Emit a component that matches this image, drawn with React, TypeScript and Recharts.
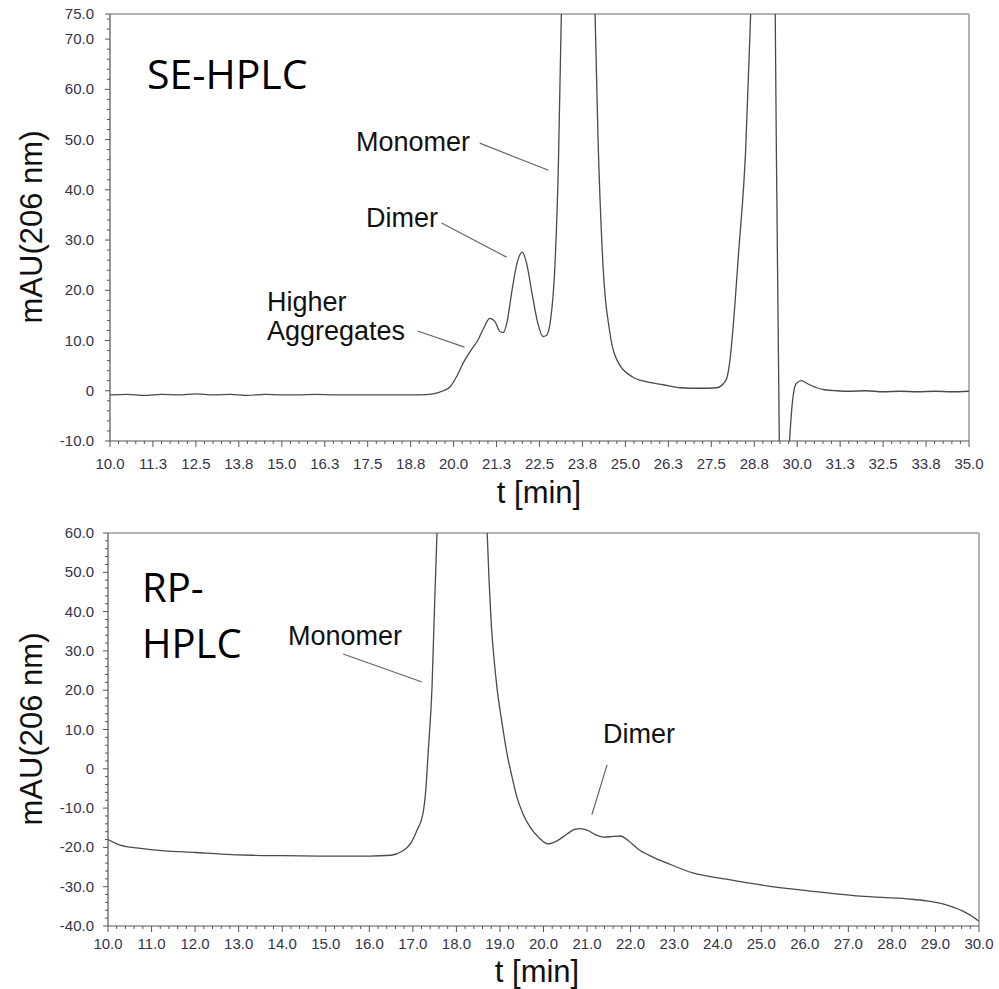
import React from 'react';
import { LineChart, Line, XAxis, YAxis, ReferenceLine } from 'recharts';

// ---------- SE-HPLC trace ----------
const seTime = [
  10.0, 10.5, 11.0, 11.5, 12.0, 12.5, 13.0, 13.5, 14.0, 14.5, 15.0, 15.5, 16.0, 16.5, 17.0, 17.5, 18.0, 18.5, 19.0,
  19.4, 19.7, 19.9, 20.1, 20.3, 20.5, 20.7, 20.9, 21.05, 21.2, 21.35, 21.45, 21.55, 21.7, 21.85, 22.0, 22.12, 22.28,
  22.45, 22.6, 22.7, 22.82, 22.95, 23.05, 23.15, 23.6, 24.1, 24.2, 24.35, 24.55, 24.8, 25.2, 25.6, 26.1, 26.6, 27.2,
  27.66, 27.85, 27.95, 28.05, 28.12, 28.3, 28.5, 28.62, 28.7, 29.0, 29.36, 29.48, 29.6, 29.77, 29.85, 29.91, 29.98,
  30.13, 30.3, 30.57, 30.8, 31.15, 31.5, 32.0, 32.5, 33.0, 33.5, 34.0, 34.5, 35.0,
];
const seMAU = [
  -0.8, -0.7, -0.9, -0.7, -0.8, -0.6, -0.8, -0.7, -0.9, -0.7, -0.8, -0.8, -0.7, -0.8, -0.8, -0.8, -0.8, -0.8, -0.8,
  -0.6, 0.0, 0.8, 3.0, 5.8, 8.0, 10.0, 12.8, 14.4, 13.8, 11.8, 11.6, 13.5, 20.0, 25.5, 27.6, 25.5, 19.5,
  13.5, 10.8, 11.0, 14.0, 25.0, 45.0, 80, 400, 80, 51, 24.7, 11.5, 5.5, 2.8, 1.8, 1.2, 0.6, 0.5,
  0.6, 1.4, 2.5, 6.5, 11.5, 28, 48, 70, 90, 400, 75.5, -10.5, -30, -10.5, -3, 0.2, 1.5,
  2.0, 1.4, 0.6, 0.2, 0.0, -0.1, 0.0, -0.2, -0.1, -0.2, -0.1, -0.2, -0.1,
];

// ---------- RP-HPLC trace ----------
const rpTime = [
  10.0, 10.3, 10.7, 11.3, 12.0, 12.6, 13.3, 14.0, 15.0, 16.0, 16.5, 16.75, 16.95, 17.1, 17.23, 17.3, 17.35, 17.44,
  17.5, 17.56, 18.1, 18.7, 18.75, 18.8, 18.86, 18.93, 19.05, 19.16, 19.28, 19.39, 19.53, 19.69, 19.9, 20.1, 20.3,
  20.54, 20.7, 20.84, 21.0, 21.2, 21.4, 21.6, 21.76, 21.95, 22.17, 22.5, 22.84, 23.43, 24.2, 25.13, 26.12, 27.27,
  28.35, 28.8, 29.17, 29.45, 29.63, 29.85, 30.0,
];
const rpMAU = [
  -18.0, -19.5, -20.2, -20.9, -21.3, -21.7, -22.0, -22.1, -22.2, -22.2, -22.0, -21.0, -19.0, -15.5, -11.5, -5, 3.8, 20.7,
  42, 62, 400, 62, 48, 37, 28.5, 20.8, 11.5, 4.0, -2.2, -7.2, -11.5, -14.8, -17.6, -19.1, -18.4,
  -16.6, -15.5, -15.2, -15.6, -16.8, -17.4, -17.2, -17.1, -18.3, -20.4, -22.4, -24, -26.5, -28.1, -29.8, -31.1, -32.4,
  -33.1, -33.6, -34.4, -35.4, -36.2, -37.6, -38.8,
];

// ---------- tick labels ----------
const seXLabels = [10, 11.25, 12.5, 13.75, 15, 16.25, 17.5, 18.75, 20, 21.25, 22.5, 23.75, 25, 26.25, 27.5, 28.75, 30, 31.25, 32.5, 33.75, 35];
const seYLabels = [-10, 0, 10, 20, 30, 40, 50, 60, 70, 75];
const rpXLabels = [10, 11, 12, 13, 14, 15, 16, 17, 18, 19, 20, 21, 22, 23, 24, 25, 26, 27, 28, 29, 30];
const rpYLabels = [-40, -30, -20, -10, 0, 10, 20, 30, 40, 50, 60];

// ---------- annotation leader lines (data coords) ----------
const seLeaders = [
  [{ x: 20.76, y: 49.3 }, { x: 22.76, y: 43.9 }],
  [{ x: 19.65, y: 33.4 }, { x: 21.54, y: 26.6 }],
  [{ x: 18.95, y: 11.9 }, { x: 20.32, y: 8.7 }],
];
const rpLeaders = [
  [{ x: 15.4, y: 29.2 }, { x: 17.21, y: 22.1 }],
  [{ x: 21.46, y: 1.0 }, { x: 21.11, y: -11.7 }],
];

const range = (a: number, b: number, step: number) => {
  const out: number[] = [];
  const n = Math.round((b - a) / step);
  for (let i = 0; i <= n; i++) out.push(Math.round((a + i * step) * 1000) / 1000);
  return out;
};

const seXTicks = range(10, 35, 0.25);
const seYTicks = [...range(-10, 74, 2), 75];
const rpXTicks = range(10, 30, 0.2);
const rpYTicks = range(-40, 60, 2);

const seData = seTime.map((t, i) => ({ t, v: seMAU[i] }));
const rpData = rpTime.map((t, i) => ({ t, v: rpMAU[i] }));

const TICK_FONT = "'Liberation Sans', Arial, Helvetica, sans-serif";
const TICK_COLOR = '#33334a';
const AXIS_COLOR = '#555';
const FRAME_COLOR = '#9a9a9a';
const TRACE_COLOR = '#4a4a4a';

const isIn = (arr: number[], v: number) => arr.some((l) => Math.abs(l - v) < 1e-6);
const fmtY = (v: number) => (v === 0 ? '0' : v.toFixed(1));

const XTick = (props: any) => {
  const { x, y, payload, labels, offset } = props;
  const v = payload.value;
  const major = isIn(labels, v);
  return (
    <g>
      <line x1={x} x2={x} y1={y} y2={y + (major ? 6 : 3)} stroke={AXIS_COLOR} strokeWidth={1} />
      {major && (
        <text x={x} y={y + offset} textAnchor="middle" fontSize={15} fontFamily={TICK_FONT} fill={TICK_COLOR}>
          {v.toFixed(1)}
        </text>
      )}
    </g>
  );
};

const YTick = (props: any) => {
  const { x, y, payload, labels, gap } = props;
  const v = payload.value;
  const major = isIn(labels, v);
  return (
    <g>
      <line x1={x - (major ? 5 : 3)} x2={x} y1={y} y2={y} stroke={AXIS_COLOR} strokeWidth={1} />
      {major && (
        <text x={x - gap} y={y + 5} textAnchor="end" fontSize={15} fontFamily={TICK_FONT} fill={TICK_COLOR}>
          {fmtY(v)}
        </text>
      )}
    </g>
  );
};

const ANN_FONT = "'Liberation Sans', Arial, Helvetica, sans-serif";
const TITLE_FONT = "'Open Sans', 'Noto Sans', sans-serif";

export default function App() {
  return (
    <div style={{ position: 'absolute', left: 0, top: 0, width: 999, height: 989, background: '#fff', overflow: 'hidden' }}>
      <div style={{ position: 'absolute', left: 0, top: 0 }}>
        <LineChart width={999} height={500} data={seData} margin={{ top: 14, right: 30, bottom: 29, left: 0 }}>
          <XAxis
            type="number"
            dataKey="t"
            domain={[10, 35]}
            ticks={seXTicks}
            interval={0}
            allowDataOverflow
            height={30}
            tickSize={0}
            tickMargin={0}
            tickLine={false}
            axisLine={{ stroke: AXIS_COLOR, strokeWidth: 1.2 }}
            tick={(p: any) => <XTick {...p} labels={seXLabels} offset={28} />}
          />
          <YAxis
            type="number"
            domain={[-10, 75]}
            ticks={seYTicks}
            interval={0}
            allowDataOverflow
            width={110}
            tickSize={0}
            tickMargin={0}
            tickLine={false}
            axisLine={{ stroke: AXIS_COLOR, strokeWidth: 1.2 }}
            tick={(p: any) => <YTick {...p} labels={seYLabels} gap={16} />}
          />
          <ReferenceLine y={75} stroke={FRAME_COLOR} strokeWidth={1.5} />
          <ReferenceLine x={35} stroke={FRAME_COLOR} strokeWidth={1.5} />
          {seLeaders.map((seg, i) => (
            <ReferenceLine key={i} segment={seg} stroke="#666" strokeWidth={1.2} />
          ))}
          <Line type="monotone" dataKey="v" stroke={TRACE_COLOR} strokeWidth={1.3} dot={false} isAnimationActive={false} />
        </LineChart>
      </div>
      <div style={{ position: 'absolute', left: 0, top: 500 }}>
        <LineChart width={999} height={489} data={rpData} margin={{ top: 33, right: 20, bottom: 33, left: 0 }}>
          <XAxis
            type="number"
            dataKey="t"
            domain={[10, 30]}
            ticks={rpXTicks}
            interval={0}
            allowDataOverflow
            height={30}
            tickSize={0}
            tickMargin={0}
            tickLine={false}
            axisLine={{ stroke: AXIS_COLOR, strokeWidth: 1.2 }}
            tick={(p: any) => <XTick {...p} labels={rpXLabels} offset={23} />}
          />
          <YAxis
            type="number"
            domain={[-40, 60]}
            ticks={rpYTicks}
            interval={0}
            allowDataOverflow
            width={108}
            tickSize={0}
            tickMargin={0}
            tickLine={false}
            axisLine={{ stroke: AXIS_COLOR, strokeWidth: 1.2 }}
            tick={(p: any) => <YTick {...p} labels={rpYLabels} gap={14} />}
          />
          <ReferenceLine y={60} stroke={FRAME_COLOR} strokeWidth={1.5} />
          <ReferenceLine x={30} stroke={FRAME_COLOR} strokeWidth={1.5} />
          {rpLeaders.map((seg, i) => (
            <ReferenceLine key={i} segment={seg} stroke="#666" strokeWidth={1.2} />
          ))}
          <Line type="monotone" dataKey="v" stroke={TRACE_COLOR} strokeWidth={1.3} dot={false} isAnimationActive={false} />
        </LineChart>
      </div>
      <svg width={999} height={989} style={{ position: 'absolute', left: 0, top: 0, pointerEvents: 'none' }}>
        {/* top panel */}
        <text x={147} y={89} fontSize={41} fontFamily={TITLE_FONT} fill="#000">SE-HPLC</text>
        <text transform="translate(42,227) rotate(-90)" textAnchor="middle" fontSize={31} fontFamily={ANN_FONT} fill="#111">mAU(206 nm)</text>
        <text x={539} y={503} textAnchor="middle" fontSize={31} fontFamily={ANN_FONT} fill="#111">t [min]</text>
        <text x={356} y={151} fontSize={27} fontFamily={ANN_FONT} fill="#111">Monomer</text>
        <text x={366} y={227} fontSize={27} fontFamily={ANN_FONT} fill="#111">Dimer</text>
        <text x={267} y={311} fontSize={27} fontFamily={ANN_FONT} fill="#111">Higher</text>
        <text x={267} y={340} fontSize={27} fontFamily={ANN_FONT} fill="#111">Aggregates</text>
        {/* bottom panel */}
        <text x={142} y={602} fontSize={40} fontFamily={TITLE_FONT} fill="#000">RP-</text>
        <text x={142} y={658} fontSize={40} fontFamily={TITLE_FONT} fill="#000">HPLC</text>
        <text transform="translate(42,729) rotate(-90)" textAnchor="middle" fontSize={31} fontFamily={ANN_FONT} fill="#111">mAU(206 nm)</text>
        <text x={537} y={982} textAnchor="middle" fontSize={31} fontFamily={ANN_FONT} fill="#111">t [min]</text>
        <text x={288} y={645} fontSize={27} fontFamily={ANN_FONT} fill="#111">Monomer</text>
        <text x={603} y={743} fontSize={27} fontFamily={ANN_FONT} fill="#111">Dimer</text>
      </svg>
    </div>
  );
}
